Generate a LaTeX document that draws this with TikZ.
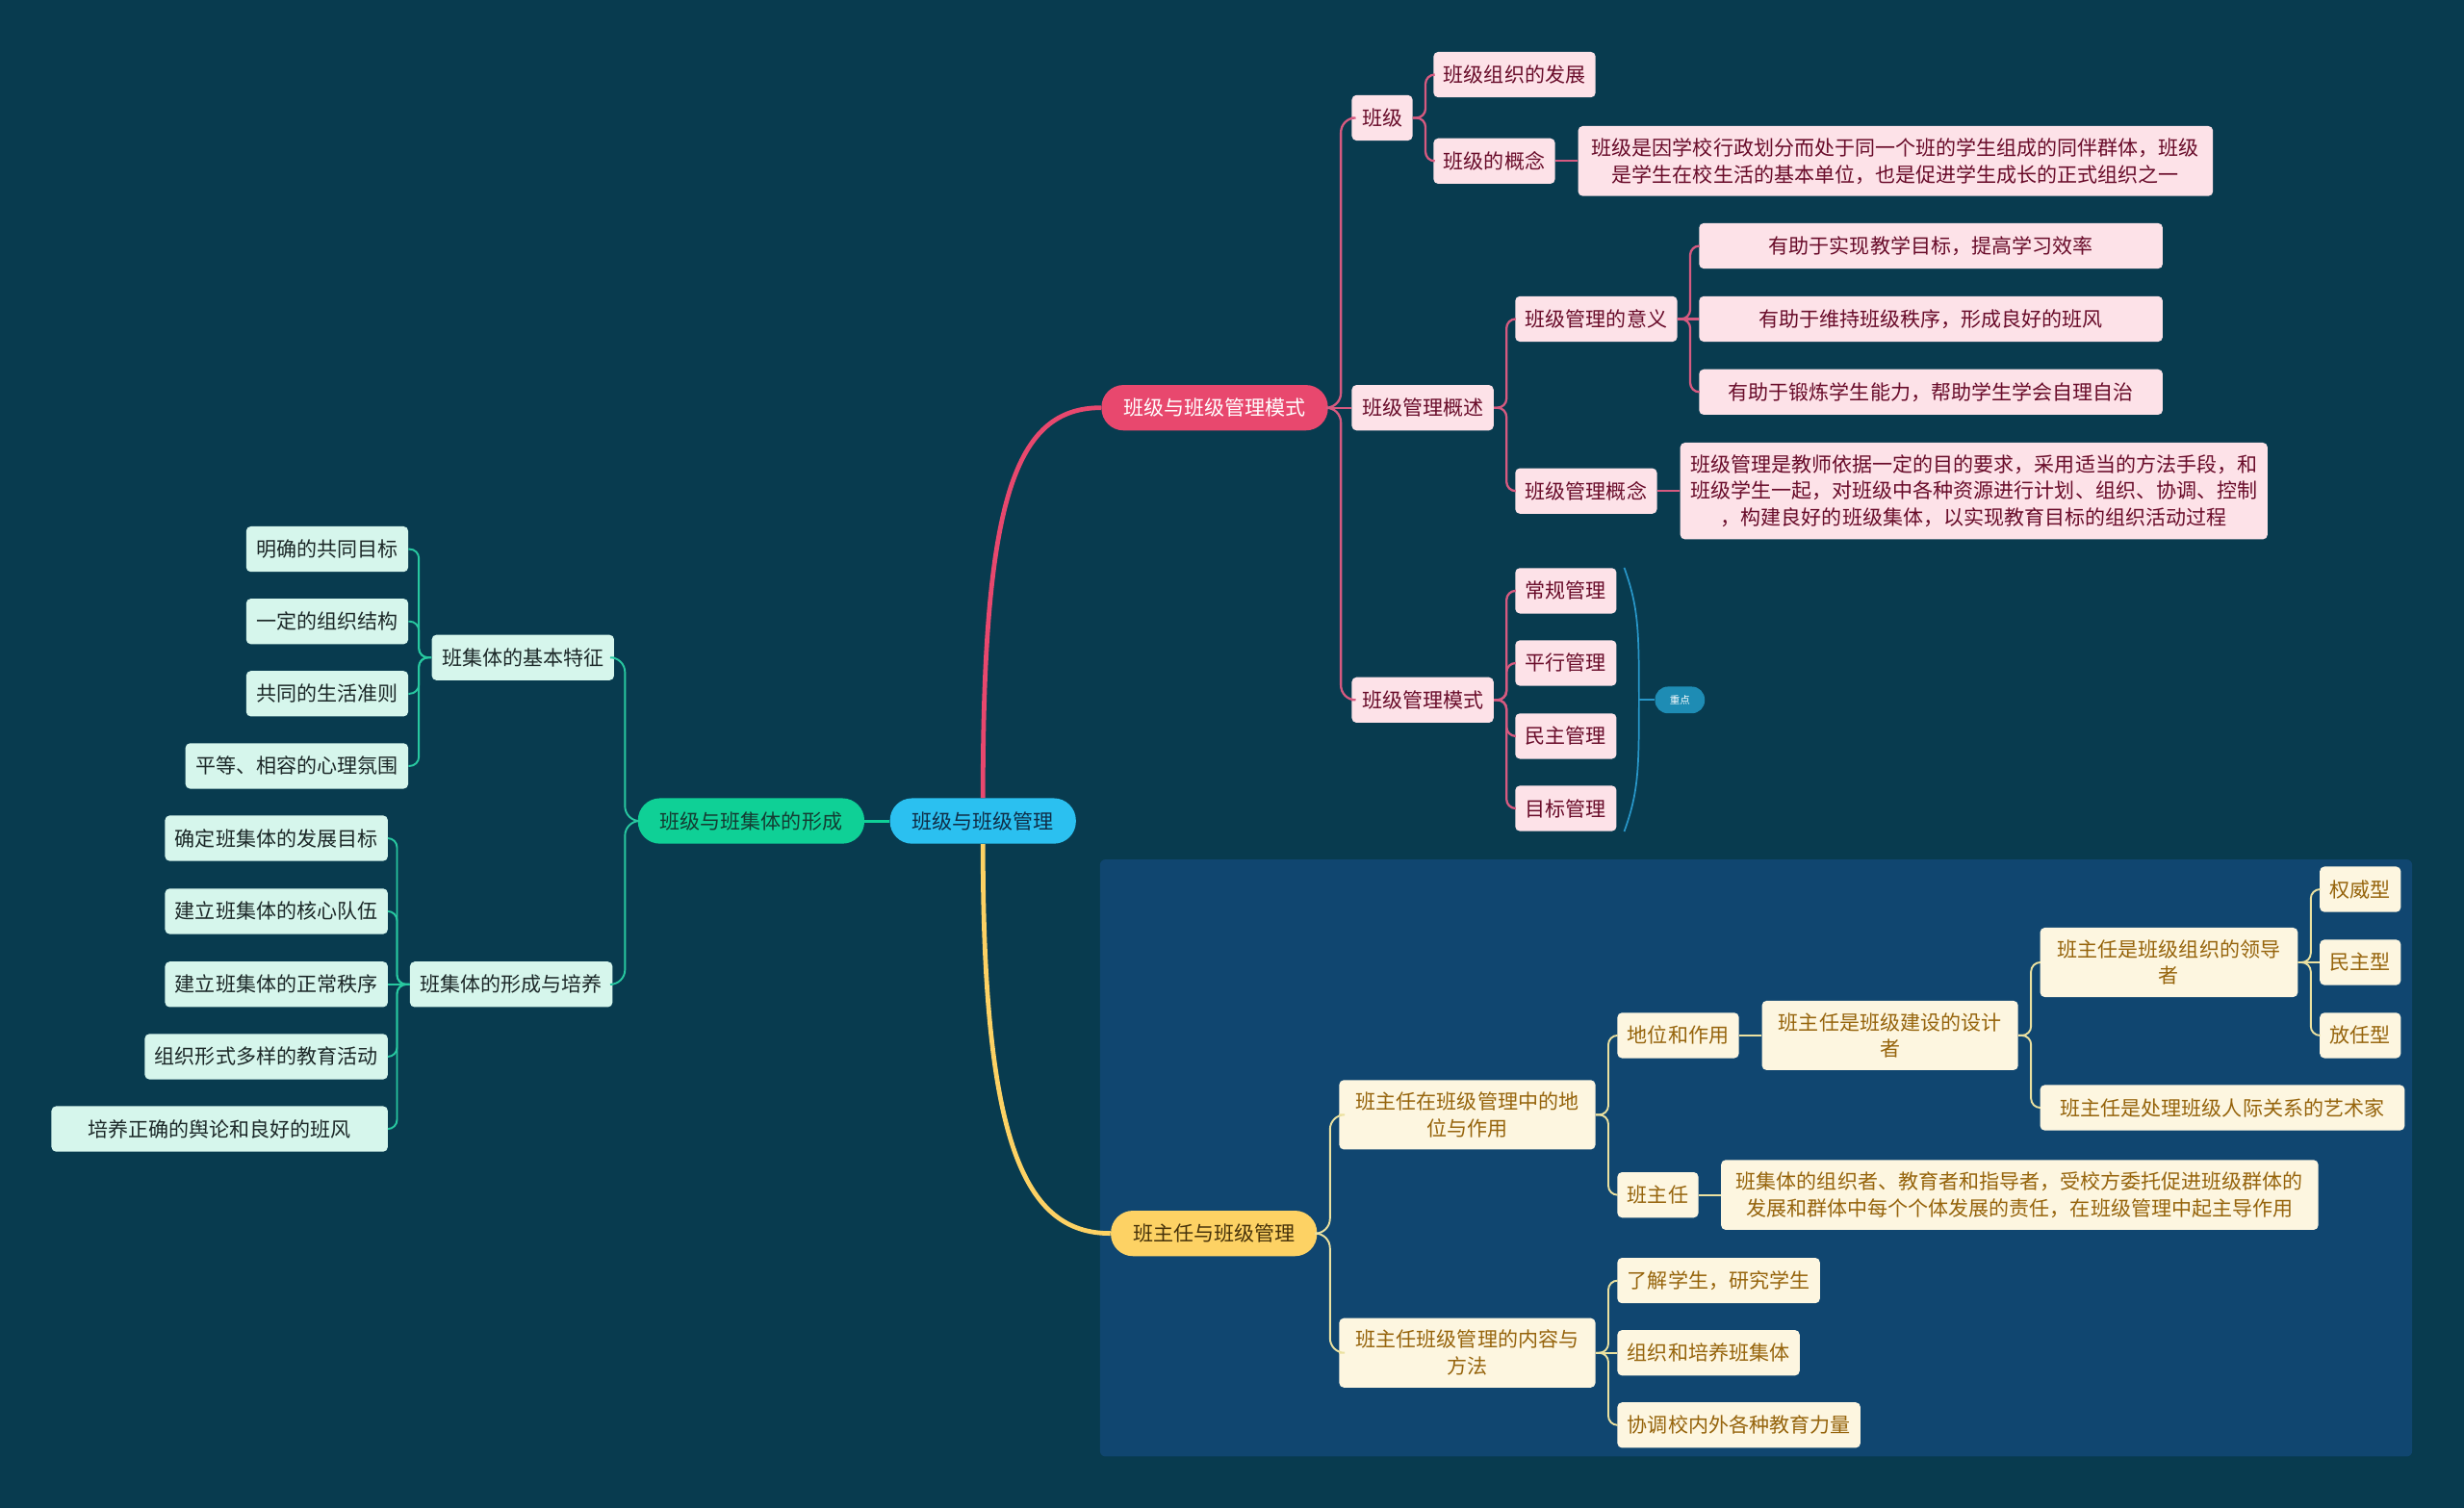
\documentclass[tikz,border=0pt]{standalone}
\usepackage{fontspec}
\setmainfont{Noto Sans CJK SC}
\definecolor{bgcol}{RGB}{8,59,79}
\definecolor{panelcol}{RGB}{16,70,112}
\definecolor{rootcol}{RGB}{43,192,240}
\definecolor{rootink}{RGB}{15,45,70}
\definecolor{greencol}{RGB}{15,208,150}
\definecolor{greenink}{RGB}{20,60,50}
\definecolor{pinkcol}{RGB}{232,72,110}
\definecolor{yellowcol}{RGB}{253,210,100}
\definecolor{yellowink}{RGB}{70,50,10}
\definecolor{pinkfill}{RGB}{253,226,232}
\definecolor{pinktext}{RGB}{105,12,42}
\definecolor{pinkline}{RGB}{214,90,128}
\definecolor{mintfill}{RGB}{214,246,236}
\definecolor{minttext}{RGB}{28,40,40}
\definecolor{mintline}{RGB}{40,200,160}
\definecolor{creamfill}{RGB}{253,246,224}
\definecolor{creamtext}{RGB}{150,100,12}
\definecolor{creamline}{RGB}{235,225,160}
\definecolor{tagcol}{RGB}{30,140,180}
\definecolor{bracecol}{RGB}{40,150,200}
\newcommand{\boxfont}{\fontsize{11}{14.5}\selectfont}
\newcommand{\toright}[3]{\draw[#1] (#2.east) -- ++(8,0) |- (#3.west);}
\newcommand{\toleft}[3]{\draw[#1] (#2.west) -- ++(-8,0) |- (#3.east);}
\newcommand{\across}[3]{\draw[#1, sharp corners] (#2) -- (#3);}

\begin{document}
\begin{tikzpicture}[x=0.03cm, y=-0.03cm,
    pill/.style={rounded corners=12pt, inner xsep=12pt, inner ysep=2pt,
                 minimum height=24.7pt, font=\boxfont},
    leaf/.style={rounded corners=2.5pt, inner xsep=5.5pt, inner ysep=6.5pt,
                 minimum height=24.7pt, align=center, font=\boxfont},
    pinkbox/.style={leaf, fill=pinkfill, text=pinktext, anchor=west},
    mintbox/.style={leaf, fill=mintfill, text=minttext, anchor=east},
    creambox/.style={leaf, fill=creamfill, text=creamtext, anchor=west},
    pinkedge/.style={draw=pinkline, line width=1.2pt, rounded corners=5pt},
    mintedge/.style={draw=mintline, line width=1pt, rounded corners=5pt},
    creamedge/.style={draw=creamline, line width=1pt, rounded corners=5pt},
    keytag/.style={fill=tagcol, text=white, rounded corners=7pt, inner sep=1pt,
                   minimum width=27pt, minimum height=14.5pt,
                   font=\fontsize{5.5}{6}\selectfont},
  ]
  %% backdrop
  \useasboundingbox (0,0) rectangle (1568,960);
  \fill[bgcol] (0,0) rectangle (1568,960);
  \fill[panelcol, rounded corners=3pt] (700,547) rectangle (1535,927);

  %% main topics
  \node[pill, fill=rootcol, text=rootink] (root) at (625.5,522.5) {班级与班级管理};
  \node[pill, fill=greencol, text=greenink] (m0) at (478,522.5) {班级与班集体的形成};
  \node[pill, fill=pinkcol, text=white] (m1) at (773,259.5) {班级与班级管理模式};
  \node[pill, fill=yellowcol, text=yellowink] (m2) at (772.5,785) {班主任与班级管理};

  \draw[pinkcol, line width=2.5pt] (root.north) .. controls +(0,-190) and +(-55,0) .. (m1.west);
  \draw[yellowcol, line width=2.5pt] (root.south) .. controls +(0,190) and +(-55,0) .. (m2.west);
  \draw[greencol, line width=1.5pt] (root.west) -- (m0.east);

  %% pink branch
  \node[pinkbox] (bj) at (860,75) {班级};
  \node[pinkbox] (bj-fz) at (912,47.5) {班级组织的发展};
  \node[pinkbox] (bj-gn) at (912,102.5) {班级的概念};
  \node[pinkbox, minimum width=12.12cm] (bj-gn-1) at (1004,102.5)
    {班级是因学校行政划分而处于同一个班的学生组成的同伴群体，班级\\是学生在校生活的基本单位，也是促进学生成长的正式组织之一};

  \node[pinkbox] (gs) at (860,259.5) {班级管理概述};
  \node[pinkbox] (gs-yy) at (964,203) {班级管理的意义};
  \foreach \n/\y/\t in {1/156.5/{有助于实现教学目标，提高学习效率},
                        2/203/{有助于维持班级秩序，形成良好的班风},
                        3/249.5/{有助于锻炼学生能力，帮助学生学会自理自治}}
    \node[pinkbox, minimum width=8.85cm] (gs-yy-\n) at (1081,\y) {\t};
  \node[pinkbox] (gs-gn) at (964,312.5) {班级管理概念};
  \node[pinkbox] (gs-gn-1) at (1069,312.5)
    {班级管理是教师依据一定的目的要求，采用适当的方法手段，和\\班级学生一起，对班级中各种资源进行计划、组织、协调、控制\\，构建良好的班级集体，以实现教育目标的组织活动过程};

  \node[pinkbox] (ms) at (860,445.5) {班级管理模式};
  \foreach \n/\y/\t in {1/376/常规管理, 2/422/平行管理, 3/468.5/民主管理, 4/514.5/目标管理}
    \node[pinkbox] (ms-\n) at (964,\y) {\t};

  \foreach \c in {bj,ms} {\toright{pinkedge, rounded corners=8pt}{m1}{\c}}
  \across{pinkedge}{m1.east}{gs.west}
  \foreach \c in {bj-fz,bj-gn} {\toright{pinkedge}{bj}{\c}}
  \across{pinkedge}{bj-gn.east}{bj-gn-1.west}
  \foreach \c in {gs-yy,gs-gn} {\toright{pinkedge}{gs}{\c}}
  \foreach \n in {1,3} {\toright{pinkedge}{gs-yy}{gs-yy-\n}}
  \across{pinkedge}{gs-yy.east}{gs-yy-2.west}
  \across{pinkedge}{gs-gn.east}{gs-gn-1.west}
  \foreach \n in {1,...,4} {\toright{pinkedge}{ms}{ms-\n}}

  %% summary brace
  \node[keytag] (key) at (1069,445.5) {重点};
  \coordinate (brT) at ([xshift=4pt]ms-1.north east);
  \coordinate (brB) at ([xshift=4pt]ms-4.south east);
  \coordinate (brM) at ([xshift=-8.5pt]key.west);
  \draw[bracecol, line width=0.9pt] (brT) .. controls +(9,25) and +(0,-45) .. (brM)
    .. controls +(0,45) and +(9,-25) .. (brB);
  \draw[bracecol, line width=0.9pt] (brM) -- (key.west);

  %% green branch
  \node[mintbox] (tz) at (391,418.5) {班集体的基本特征};
  \foreach \n/\y/\t in {1/349.5/明确的共同目标, 2/395.5/一定的组织结构,
                        3/441.5/共同的生活准则, 4/487.5/{平等、相容的心理氛围}}
    \node[mintbox] (tz-\n) at (260,\y) {\t};
  \node[mintbox] (py) at (390,626.5) {班集体的形成与培养};
  \foreach \n/\y/\t in {1/533.5/确定班集体的发展目标, 2/580/建立班集体的核心队伍,
                        3/626.5/建立班集体的正常秩序, 4/672.5/组织形式多样的教育活动}
    \node[mintbox] (py-\n) at (247,\y) {\t};
  \node[mintbox, minimum width=6.42cm] (py-5) at (247,718.5) {培养正确的舆论和良好的班风};

  \foreach \c in {tz,py} {\toleft{mintedge, rounded corners=8pt}{m0}{\c}}
  \foreach \n in {1,...,4} {\toleft{mintedge}{tz}{tz-\n}}
  \foreach \n in {1,2,4,5} {\toleft{mintedge}{py}{py-\n}}
  \across{mintedge}{py.west}{py-3.east}

  %% yellow branch
  \node[creambox, minimum width=4.89cm] (dz) at (852,709.5) {班主任在班级管理中的地\\位与作用};
  \node[creambox] (dz-zy) at (1029,659) {地位和作用};
  \node[creambox, minimum width=4.89cm] (sj) at (1121,659) {班主任是班级建设的设计\\者};
  \node[creambox, minimum width=4.92cm] (ld) at (1298,612.5) {班主任是班级组织的领导\\者};
  \foreach \n/\y/\t in {1/566/权威型, 2/612.5/民主型, 3/659/放任型}
    \node[creambox] (ld-\n) at (1476,\y) {\t};
  \node[creambox, minimum width=6.96cm] (ys) at (1298,705) {班主任是处理班级人际关系的艺术家};
  \node[creambox] (bzr) at (1029,760.5) {班主任};
  \node[creambox, minimum width=11.4cm] (bzr-1) at (1095,760.5)
    {班集体的组织者、教育者和指导者，受校方委托促进班级群体的\\发展和群体中每个个体发展的责任，在班级管理中起主导作用};
  \node[creambox, minimum width=4.89cm] (nr) at (852,861) {班主任班级管理的内容与\\方法};
  \foreach \n/\y/\t in {1/815/{了解学生，研究学生}, 2/861/组织和培养班集体, 3/907/协调校内外各种教育力量}
    \node[creambox] (nr-\n) at (1029,\y) {\t};

  \foreach \c in {dz,nr} {\toright{creamedge, rounded corners=8pt}{m2}{\c}}
  \foreach \c in {dz-zy,bzr} {\toright{creamedge}{dz}{\c}}
  \across{creamedge}{dz-zy.east}{sj.west}
  \foreach \c in {ld,ys} {\toright{creamedge}{sj}{\c}}
  \foreach \n in {1,3} {\toright{creamedge}{ld}{ld-\n}}
  \across{creamedge}{ld.east}{ld-2.west}
  \across{creamedge}{bzr.east}{bzr-1.west}
  \foreach \n in {1,3} {\toright{creamedge}{nr}{nr-\n}}
  \across{creamedge}{nr.east}{nr-2.west}
\end{tikzpicture}
\end{document}
